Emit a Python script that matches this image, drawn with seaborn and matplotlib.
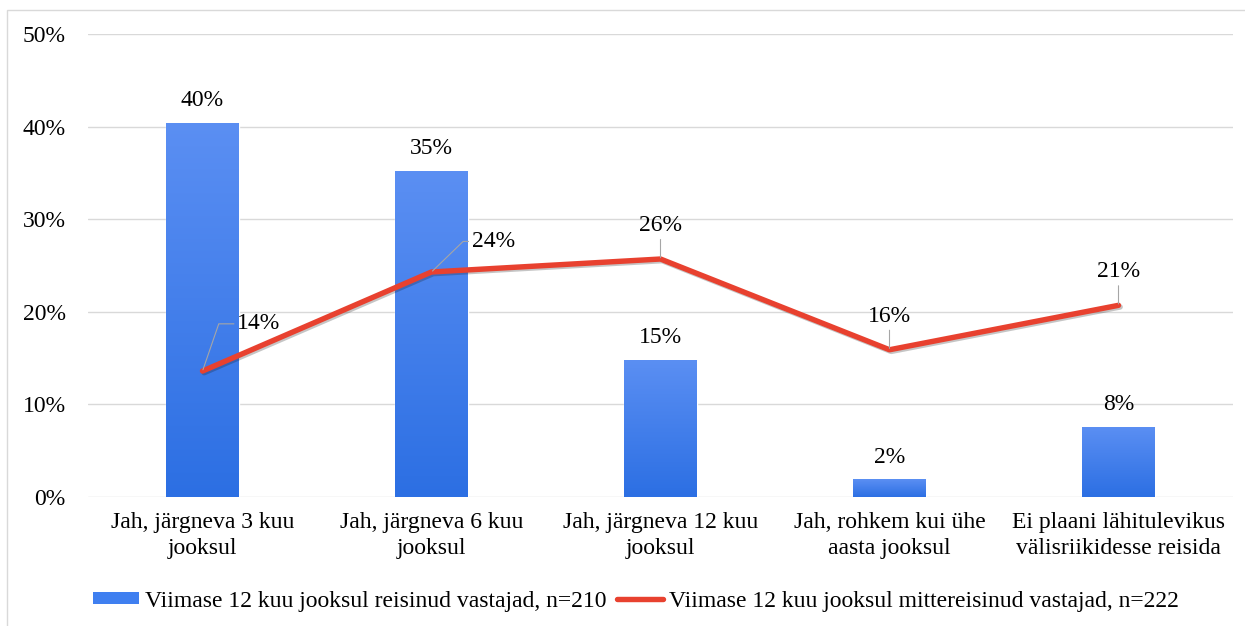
import numpy as np
import pandas as pd
import matplotlib
matplotlib.use("Agg")
import matplotlib.pyplot as plt
import matplotlib.patheffects as pe
from matplotlib.lines import Line2D
from matplotlib.patches import Patch, Rectangle
import seaborn as sns

categories = [
    "Jah, järgneva 3 kuu\njooksul",
    "Jah, järgneva 6 kuu\njooksul",
    "Jah, järgneva 12 kuu\njooksul",
    "Jah, rohkem kui ühe\naasta jooksul",
    "Ei plaani lähitulevikus\nvälisriikidesse reisida",
]
travelled = [40.4, 35.2, 14.8, 1.9, 7.6]
not_travelled = [13.6, 24.3, 25.7, 15.9, 20.7]
travelled_name = "Viimase 12 kuu jooksul reisinud vastajad, n=210"
not_travelled_name = "Viimase 12 kuu jooksul mittereisinud vastajad, n=222"
yticks = [0, 10, 20, 30, 40, 50]

sns.set_theme(style="white")
plt.rcParams["font.family"] = ["Liberation Serif", "DejaVu Serif"]
plt.rcParams["text.color"] = "black"
FS = 17

df = pd.DataFrame({"cat": categories, "travelled": travelled, "not_travelled": not_travelled})

fig = plt.figure(figsize=(12.45, 6.26), dpi=100)
ax = fig.add_axes([88 / 1245, 1 - 497 / 626, (1233 - 88) / 1245, (497 - 34) / 626])

BAR_TOP = "#5b8ff3"
BAR_BOT = "#2c6fe3"
RED = "#e8412f"

sns.barplot(data=df, x="cat", y="travelled", color=BAR_BOT, width=0.315,
            saturation=1, ax=ax, zorder=2)

# vertical gradient fill on each bar
grad = np.linspace(0, 1, 256).reshape(-1, 1)
cmap = matplotlib.colors.LinearSegmentedColormap.from_list("bar", [BAR_BOT, BAR_TOP])
for p in list(ax.patches):
    x0, y0 = p.get_x(), p.get_y()
    w, h = p.get_width(), p.get_height()
    im = ax.imshow(grad, cmap=cmap, origin="lower", aspect="auto",
                   extent=[x0, x0 + w, y0, y0 + h], zorder=2.1)
    im.set_clip_path(p)

x = np.arange(len(categories))
sns.lineplot(x=x, y=not_travelled, color=RED, lw=3.9, ax=ax, zorder=4,
             solid_capstyle="round", solid_joinstyle="round",
             path_effects=[pe.SimpleLineShadow(offset=(1.2, -1.2), alpha=0.25), pe.Normal()])

ax.set_xlim(-0.5, len(categories) - 0.5)
ax.set_ylim(0, 50)
ax.set_yticks(yticks)
ax.set_yticklabels([f"{t}%" for t in yticks], fontsize=FS)
ax.set_xticks(x)
ax.set_xticklabels(categories, fontsize=FS, linespacing=1.3)
ax.set_xlabel("")
ax.set_ylabel("")
ax.tick_params(axis="y", length=0, pad=16, colors="black")
ax.tick_params(axis="x", length=0, pad=11, colors="black")
ax.grid(axis="y", color="#d9d9d9", lw=1)
ax.set_axisbelow(True)
for s in ax.spines.values():
    s.set_visible(False)

# bar value labels
for xi, v in zip(x, travelled):
    ax.annotate(f"{v:.0f}%", (xi, v), xytext=(0, 16), textcoords="offset points",
                ha="center", va="center", fontsize=FS, color="black")

# line value labels with leader lines
leader = dict(arrowstyle="-", color="#a6a6a6", lw=0.8, shrinkA=0, shrinkB=1)
ax.annotate(f"{not_travelled[0]:.0f}%", (x[0], not_travelled[0]), xytext=(25, 34),
            textcoords="offset points", ha="left", va="center", fontsize=FS, zorder=5,
            color="black",
            arrowprops=dict(leader, relpos=(0, 0.5),
                            connectionstyle="angle,angleA=180,angleB=71,rad=0"))
ax.annotate(f"{not_travelled[1]:.0f}%", (x[1], not_travelled[1]), xytext=(29, 22),
            textcoords="offset points", ha="left", va="center", fontsize=FS, zorder=5,
            color="black",
            arrowprops=dict(leader, relpos=(0, 0.5),
                            connectionstyle="angle,angleA=180,angleB=44,rad=0"))
for i in (2, 3, 4):
    ax.annotate(f"{not_travelled[i]:.0f}%", (x[i], not_travelled[i]), xytext=(0, 24),
                textcoords="offset points", ha="center", va="center", fontsize=FS, zorder=5,
                color="black", arrowprops=dict(leader, relpos=(0.5, 0)))

handles = [Patch(facecolor="#3f7ff0", edgecolor="none"),
           Line2D([0], [0], color=RED, lw=3.9, solid_capstyle="round")]
leg = fig.legend(handles, [travelled_name, not_travelled_name], loc="center",
                 bbox_to_anchor=(636 / 1245, 1 - 601 / 626), ncol=2, frameon=False,
                 fontsize=FS, handlelength=1.95, handleheight=0.4, handletextpad=0.25,
                 columnspacing=0.45)
for t in leg.get_texts():
    t.set_color("black")

# chart frame
fig.patches.append(Rectangle((7 / 1245, -0.05), 1.1, 1 - 10 / 626 + 0.05,
                             transform=fig.transFigure, fill=False,
                             edgecolor="#d9d9d9", lw=1))

fig.savefig("out.png", dpi=100, facecolor="white")
